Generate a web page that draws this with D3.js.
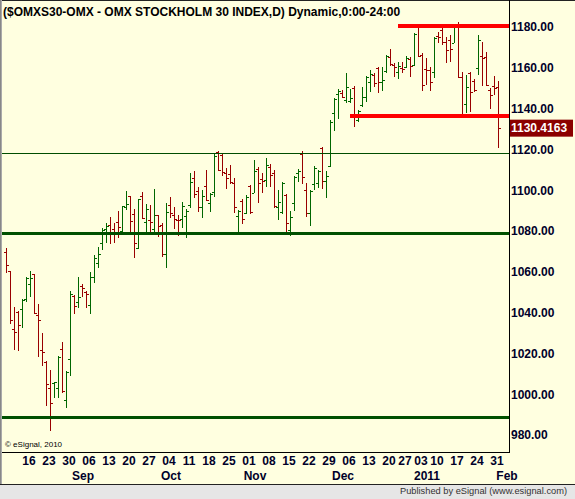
<!DOCTYPE html>
<html>
<head>
<meta charset="utf-8">
<script src="https://cdn.jsdelivr.net/npm/d3@7"></script>
<style>
  body { margin: 0; background: #ffffe0; }
  svg { display: block; font-family: "Liberation Sans", Arial, sans-serif; }
</style>
</head>
<body>
<div id="chart"></div>
<script>
// Daily bars, $OMXS30
var dates = [
  "2010-08-06",
  "2010-08-09", "2010-08-10", "2010-08-11", "2010-08-12", "2010-08-13",
  "2010-08-16", "2010-08-17", "2010-08-18", "2010-08-19", "2010-08-20",
  "2010-08-23", "2010-08-24", "2010-08-25", "2010-08-26", "2010-08-27",
  "2010-08-30", "2010-08-31", "2010-09-01", "2010-09-02", "2010-09-03",
  "2010-09-06", "2010-09-07", "2010-09-08", "2010-09-09", "2010-09-10",
  "2010-09-13", "2010-09-14", "2010-09-15", "2010-09-16", "2010-09-17",
  "2010-09-20", "2010-09-21", "2010-09-22", "2010-09-23", "2010-09-24",
  "2010-09-27", "2010-09-28", "2010-09-29", "2010-09-30", "2010-10-01",
  "2010-10-04", "2010-10-05", "2010-10-06", "2010-10-07", "2010-10-08",
  "2010-10-11", "2010-10-12", "2010-10-13", "2010-10-14", "2010-10-15",
  "2010-10-18", "2010-10-19", "2010-10-20", "2010-10-21", "2010-10-22",
  "2010-10-25", "2010-10-26", "2010-10-27", "2010-10-28", "2010-10-29",
  "2010-11-01", "2010-11-02", "2010-11-03", "2010-11-04", "2010-11-05",
  "2010-11-08", "2010-11-09", "2010-11-10", "2010-11-11", "2010-11-12",
  "2010-11-15", "2010-11-16", "2010-11-17", "2010-11-18", "2010-11-19",
  "2010-11-22", "2010-11-23", "2010-11-24", "2010-11-25", "2010-11-26",
  "2010-11-29", "2010-11-30", "2010-12-01", "2010-12-02", "2010-12-03",
  "2010-12-06", "2010-12-07", "2010-12-08", "2010-12-09", "2010-12-10",
  "2010-12-13", "2010-12-14", "2010-12-15", "2010-12-16", "2010-12-17",
  "2010-12-20", "2010-12-21", "2010-12-22", "2010-12-23",
  "2010-12-27", "2010-12-28", "2010-12-29", "2010-12-30",
  "2011-01-03", "2011-01-04", "2011-01-05", "2011-01-07",
  "2011-01-10", "2011-01-11", "2011-01-12", "2011-01-13", "2011-01-14",
  "2011-01-17", "2011-01-18", "2011-01-19", "2011-01-20", "2011-01-21",
  "2011-01-24", "2011-01-25", "2011-01-26", "2011-01-27", "2011-01-28",
  "2011-01-31"
];
var nextDay = "2011-02-01";

var opens = [
  1069.8, 1060.4, 1032.2, 1040.1, 1041.7, 1046.6, 1054.0, 1058.9, 1038.8, 1021.8,
  1015.9, 1002.8, 1005.3, 1002.8, 1022.1, 997.1, 1017.2, 1048.3, 1045.0, 1053.2,
  1049.9, 1043.7, 1057.6, 1064.1, 1074.0, 1080.8, 1082.9, 1080.8, 1084.2, 1080.2,
  1091.9, 1097.0, 1088.2, 1071.8, 1097.2, 1084.3, 1085.2, 1080.8, 1087.8, 1082.9,
  1068.7, 1092.7, 1087.8, 1085.4, 1085.7, 1087.3, 1092.7, 1105.8, 1099.6, 1091.6,
  1102.1, 1093.9, 1099.3, 1118.9, 1117.3, 1108.3, 1107.9, 1103.7, 1087.5, 1094.9,
  1089.0, 1102.2, 1098.8, 1110.2, 1105.3, 1105.0, 1111.5, 1108.3, 1091.9, 1089.5,
  1097.6, 1080.5, 1093.6, 1108.3, 1117.7, 1100.1, 1089.0, 1103.0, 1103.4, 1120.8,
  1104.5, 1111.9, 1138.0, 1147.2, 1147.5, 1144.2, 1143.8, 1150.3, 1134.4, 1141.8,
  1145.9, 1153.2, 1156.5, 1159.7, 1153.2, 1158.6, 1165.5, 1161.4, 1158.0, 1160.0,
  1160.5, 1164.1, 1161.4, 1181.0, 1166.3, 1159.2, 1158.9, 1158.1, 1175.8, 1178.5,
  1172.8, 1173.6, 1172.3, 1181.5, 1155.6, 1142.1, 1157.3, 1153.7, 1159.7, 1166.0,
  1165.5, 1149.1, 1151.0, 1150.4
];
var highs = [
  1071.8, 1060.6, 1042.9, 1040.7, 1046.6, 1057.4, 1060.4, 1059.1, 1044.2, 1029.8,
  1016.1, 1011.8, 1006.1, 1018.8, 1025.4, 1011.3, 1050.5, 1048.6, 1057.4, 1053.8,
  1050.5, 1059.7, 1068.2, 1072.1, 1081.6, 1083.8, 1086.9, 1084.1, 1089.8, 1092.4,
  1099.6, 1097.2, 1090.8, 1095.7, 1099.3, 1093.1, 1092.7, 1100.6, 1088.0, 1083.8,
  1093.6, 1096.8, 1091.8, 1087.8, 1094.4, 1090.6, 1108.6, 1109.4, 1101.7, 1100.1,
  1109.9, 1098.8, 1117.7, 1119.2, 1118.1, 1110.7, 1112.4, 1105.8, 1090.3, 1095.5,
  1097.5, 1102.5, 1114.8, 1111.2, 1108.3, 1116.0, 1112.7, 1109.9, 1100.1, 1104.2,
  1098.1, 1090.0, 1107.0, 1110.2, 1119.2, 1103.4, 1100.1, 1111.9, 1109.9, 1121.3,
  1109.6, 1134.4, 1145.0, 1149.5, 1149.1, 1157.3, 1149.5, 1151.1, 1139.3, 1150.4,
  1156.0, 1158.9, 1157.3, 1160.5, 1160.5, 1166.3, 1169.1, 1162.2, 1163.0, 1163.0,
  1165.8, 1165.1, 1177.2, 1181.5, 1167.4, 1164.6, 1160.5, 1174.9, 1177.7, 1180.5,
  1175.3, 1176.1, 1181.0, 1182.6, 1158.1, 1156.5, 1158.1, 1154.3, 1176.1, 1172.8,
  1167.9, 1149.9, 1156.0, 1153.7
];
var lows = [
  1059.5, 1034.2, 1021.6, 1021.1, 1032.6, 1045.3, 1047.8, 1039.3, 1018.0, 1013.9,
  994.3, 982.1, 998.3, 998.3, 1000.4, 993.0, 1009.0, 1039.3, 1042.4, 1047.6,
  1042.1, 1039.4, 1054.3, 1062.0, 1070.7, 1074.0, 1073.8, 1074.3, 1076.4, 1079.7,
  1090.5, 1078.4, 1066.6, 1071.0, 1085.9, 1078.1, 1078.1, 1079.7, 1077.2, 1067.4,
  1061.7, 1086.2, 1081.0, 1077.7, 1081.3, 1076.7, 1091.1, 1096.0, 1089.5, 1086.5,
  1094.9, 1089.5, 1096.5, 1109.6, 1107.1, 1100.4, 1102.9, 1088.7, 1079.2, 1083.4,
  1088.3, 1088.3, 1098.5, 1093.6, 1098.8, 1101.7, 1101.7, 1091.1, 1085.4, 1088.3,
  1078.9, 1077.7, 1090.0, 1103.9, 1102.9, 1087.0, 1082.6, 1100.1, 1100.9, 1100.4,
  1096.3, 1111.5, 1129.2, 1134.8, 1145.0, 1142.9, 1142.6, 1130.8, 1133.6, 1140.9,
  1143.4, 1148.3, 1150.7, 1147.8, 1148.8, 1157.6, 1160.9, 1155.7, 1154.4, 1157.6,
  1159.7, 1155.3, 1160.9, 1165.5, 1148.8, 1151.6, 1148.8, 1154.8, 1172.0, 1171.2,
  1162.5, 1163.0, 1172.3, 1154.8, 1136.0, 1137.7, 1138.5, 1148.3, 1156.5, 1151.1,
  1151.1, 1139.6, 1146.7, 1120.5
];
var closes = [
  1063.3, 1036.3, 1030.6, 1033.9, 1046.1, 1056.8, 1057.1, 1039.9, 1036.3, 1020.6,
  1004.8, 995.5, 1005.8, 1018.4, 1001.5, 1011.0, 1048.9, 1043.4, 1047.8, 1052.2,
  1048.9, 1057.6, 1066.9, 1068.5, 1080.5, 1082.5, 1079.7, 1078.4, 1081.8, 1092.1,
  1093.2, 1084.9, 1074.0, 1095.5, 1086.2, 1090.8, 1084.6, 1087.8, 1082.6, 1068.6,
  1089.2, 1088.7, 1085.9, 1085.2, 1092.3, 1089.8, 1104.2, 1098.0, 1091.9, 1097.2,
  1095.2, 1098.0, 1116.8, 1109.9, 1109.1, 1106.1, 1103.9, 1091.6, 1090.0, 1085.7,
  1096.8, 1089.5, 1109.4, 1103.7, 1104.7, 1112.4, 1107.4, 1092.4, 1094.4, 1103.7,
  1083.8, 1086.7, 1106.6, 1109.6, 1106.6, 1089.0, 1099.8, 1110.7, 1109.4, 1104.5,
  1107.1, 1133.5, 1144.5, 1148.5, 1145.5, 1150.7, 1145.0, 1136.4, 1139.0, 1145.9,
  1155.7, 1157.0, 1152.7, 1152.9, 1154.0, 1165.8, 1161.9, 1160.2, 1161.0, 1159.5,
  1165.0, 1160.9, 1176.6, 1165.8, 1151.6, 1158.9, 1153.2, 1174.4, 1175.3, 1172.8,
  1168.7, 1169.0, 1180.2, 1155.6, 1136.4, 1150.4, 1148.3, 1149.1, 1173.6, 1165.0,
  1151.6, 1146.7, 1150.0, 1130.4163
];

// Axis labels
var priceTicks = [980, 1000, 1020, 1040, 1060, 1080, 1100, 1120, 1140, 1160, 1180];
var weekTicks = [
  "2010-08-16", "2010-08-23", "2010-08-30", "2010-09-06", "2010-09-13", "2010-09-20",
  "2010-09-27", "2010-10-04", "2010-10-11", "2010-10-18", "2010-10-25", "2010-11-01",
  "2010-11-08", "2010-11-15", "2010-11-22", "2010-11-29", "2010-12-06", "2010-12-13",
  "2010-12-20", "2010-12-27", "2011-01-03", "2011-01-10", "2011-01-17", "2011-01-24",
  "2011-01-31"
];
var monthTicks = ["2010-09-01", "2010-10-01", "2010-11-01", "2010-12-01", "2011-01-03", nextDay];
var monthNames = ["Sep", "Oct", "Nov", "Dec", "2011", "Feb"];

// Drawn trend / support lines
var thickGreenLevels = [1078.8, 989.0];
var thinGreenLevels = [1118.0];
var redLevels = [1136.4, 1180.5];
var redStarts = ["2010-12-06", "2010-12-22"];

var title = "($OMXS30-OMX - OMX STOCKHOLM 30 INDEX,D) Dynamic,0:00-24:00";

var W = 575, H = 499;
var plotLeft = 2, plotRight = 509, plotBottom = 452;

var svg = d3.select("#chart").append("svg")
  .attr("width", W)
  .attr("height", H);

// background + frame
svg.append("rect").attr("width", W).attr("height", H).attr("fill", "#ffffe0");
svg.append("rect").attr("x", 0).attr("y", 485).attr("width", W).attr("height", 14).attr("fill", "#e6e6e6");
svg.append("line").attr("x1", 0).attr("x2", W).attr("y1", 484.5).attr("y2", 484.5).attr("stroke", "#222");
svg.append("line").attr("x1", 0).attr("x2", W).attr("y1", 0.5).attr("y2", 0.5).attr("stroke", "#222");
svg.append("line").attr("x1", 0.5).attr("x2", 0.5).attr("y1", 0).attr("y2", 484).attr("stroke", "#888");
svg.append("line").attr("x1", 1.5).attr("x2", 1.5).attr("y1", 0).attr("y2", 484).attr("stroke", "#aaa");

// scales
var x = d3.scalePoint()
  .domain(dates.concat([nextDay]))
  .range([6, 6 + 4 * dates.length]);

var y = d3.scaleLinear()
  .domain([980, 1180])
  .range([435, 27]);

var bars = dates.map(function(d, i) {
  return { date: d, open: opens[i], high: highs[i], low: lows[i], close: closes[i] };
});

// OHLC bars
var barG = svg.append("g");
bars.forEach(function(d) {
  var cx = Math.round(x(d.date));
  var col = d.close >= d.open ? "#006600" : "#990000";
  var top = Math.round(y(d.high)), bot = Math.round(y(d.low));
  barG.append("rect").attr("x", cx).attr("y", top).attr("width", 1).attr("height", Math.max(1, bot - top)).attr("fill", col);
  barG.append("rect").attr("x", cx - 2).attr("y", Math.round(y(d.open))).attr("width", 2).attr("height", 1).attr("fill", col);
  barG.append("rect").attr("x", cx + 1).attr("y", Math.round(y(d.close))).attr("width", 2).attr("height", 1).attr("fill", col);
});

// level lines
svg.selectAll(".thin-green").data(thinGreenLevels).enter().append("line")
  .attr("x1", plotLeft).attr("x2", plotRight)
  .attr("y1", function(d) { return Math.round(y(d)) + 0.5; })
  .attr("y2", function(d) { return Math.round(y(d)) + 0.5; })
  .attr("stroke", "#004d00").attr("stroke-width", 1);

svg.selectAll(".thick-green").data(thickGreenLevels).enter().append("line")
  .attr("x1", plotLeft).attr("x2", plotRight)
  .attr("y1", function(d) { return Math.round(y(d)) + 0.5; })
  .attr("y2", function(d) { return Math.round(y(d)) + 0.5; })
  .attr("stroke", "#005000").attr("stroke-width", 3);

svg.selectAll(".red-level").data(redLevels).enter().append("line")
  .attr("x1", function(d, i) { return x(redStarts[i]); })
  .attr("x2", plotRight)
  .attr("y1", function(d) { return y(d); })
  .attr("y2", function(d) { return y(d); })
  .attr("stroke", "#ff0000").attr("stroke-width", 4);

// plot frame (right + bottom)
svg.append("line").attr("x1", plotRight + 0.5).attr("x2", plotRight + 0.5).attr("y1", 0).attr("y2", plotBottom + 1).attr("stroke", "#000");
svg.append("line").attr("x1", plotLeft).attr("x2", plotRight + 1).attr("y1", plotBottom + 0.5).attr("y2", plotBottom + 0.5).attr("stroke", "#000");

// right price axis
var yAxis = d3.axisRight(y).tickValues(priceTicks).tickFormat(d3.format(".2f")).tickSize(0).tickPadding(2);
var yAxisG = svg.append("g")
  .attr("transform", "translate(" + plotRight + ",0)")
  .call(yAxis);
yAxisG.select(".domain").remove();
yAxisG.selectAll("text")
  .attr("fill", "#00002a")
  .style("font-size", "12px")
  .style("font-weight", "bold")
  .style("font-family", "'Liberation Sans', Arial, sans-serif");

// last price box
var last = closes[closes.length - 1];
svg.append("rect")
  .attr("x", plotRight + 1).attr("y", y(last) - 8.5)
  .attr("width", 63).attr("height", 17)
  .attr("fill", "#8b0000");
svg.append("text")
  .attr("x", plotRight + 2).attr("y", y(last))
  .attr("dy", "0.35em")
  .attr("fill", "#fff")
  .style("font-size", "12px").style("font-weight", "bold")
  .text(d3.format(".4f")(last));

// bottom date axis
svg.selectAll(".day-label").data(weekTicks).enter().append("text")
  .attr("x", function(d) { return x(d) - 1; })
  .attr("y", 465)
  .attr("text-anchor", "middle")
  .attr("fill", "#00002a")
  .style("font-size", "12px").style("font-weight", "bold")
  .text(function(d) { return d.slice(8); });

svg.selectAll(".month-label").data(monthTicks).enter().append("text")
  .attr("x", function(d) { return x(d) + 5; })
  .attr("y", 480)
  .attr("text-anchor", "middle")
  .attr("fill", "#00002a")
  .style("font-size", "12px").style("font-weight", "bold")
  .text(function(d, i) { return monthNames[i]; });

// title and credits
svg.append("text")
  .attr("x", 3).attr("y", 16)
  .attr("fill", "#000")
  .style("font-size", "12px").style("font-weight", "bold")
  .text(title);

svg.append("text")
  .attr("x", 5).attr("y", 447)
  .attr("fill", "#000")
  .style("font-size", "8px")
  .text("\u00a9 eSignal, 2010");

svg.append("text")
  .attr("x", 400).attr("y", 494)
  .attr("textLength", 167)
  .attr("lengthAdjust", "spacingAndGlyphs")
  .attr("fill", "#333")
  .style("font-size", "9px")
  .text("Published by eSignal (www.esignal.com)");
</script>
</body>
</html>
